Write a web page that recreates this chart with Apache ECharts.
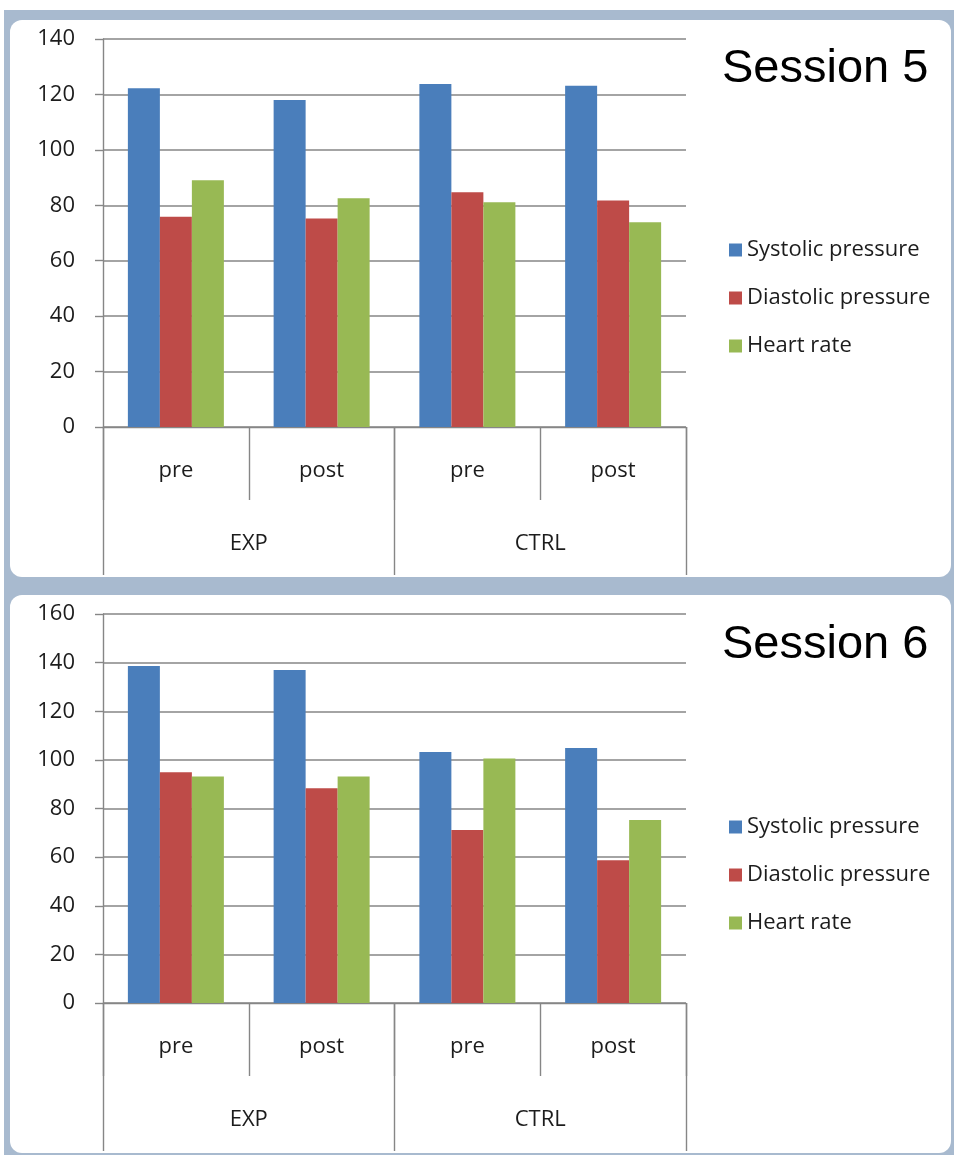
<!DOCTYPE html>
<html>
<head>
<meta charset="utf-8">
<script src="https://cdn.jsdelivr.net/npm/echarts@6/dist/echarts.min.js"></script>
<style>
  html, body { margin: 0; padding: 0; background: #ffffff; }
  #chart { width: 954px; height: 1155px; }
</style>
</head>
<body>
<div id="chart"></div>
<script>
// Condition labels (inner level) and group labels (outer level)
const conditions = ['pre', 'post', 'pre', 'post'];
const groups = ['EXP', 'CTRL'];
const measureNames = ['Systolic pressure', 'Diastolic pressure', 'Heart rate'];
const measureColors = ['#4a7ebb', '#be4b48', '#98b954'];

// Session 5 values
const s5Systolic = [122.2, 118.0, 123.8, 123.1];
const s5Diastolic = [75.9, 75.2, 84.7, 81.7];
const s5HeartRate = [89.0, 82.5, 81.1, 73.9];

// Session 6 values
const s6Systolic = [138.6, 137.0, 103.2, 104.9];
const s6Diastolic = [94.9, 88.3, 71.2, 58.7];
const s6HeartRate = [93.2, 93.2, 100.6, 75.3];

// Axis ranges
const s5Max = 140;
const s6Max = 160;
const yStep = 20;

const FONT = "'Open Sans', 'DejaVu Sans', sans-serif";
const TEXT = '#1c1c1c';
const LINE = '#868686';

const panels = [
  { title: 'Session 5', top: 39, height: 388, max: s5Max, data: [s5Systolic, s5Diastolic, s5HeartRate], titleTop: 46, legendTop: 238 },
  { title: 'Session 6', top: 614, height: 389, max: s6Max, data: [s6Systolic, s6Diastolic, s6HeartRate], titleTop: 622, legendTop: 815 }
];

const grid = [], xAxis = [], yAxis = [], series = [], title = [], legend = [];

panels.forEach((p, i) => {
  grid.push({ left: 103, width: 583, top: p.top, height: p.height, containLabel: false });

  // inner level: pre / post
  xAxis.push({
    type: 'category', gridIndex: i, data: conditions, position: 'bottom',
    axisLine: { show: true, lineStyle: { color: LINE, width: 1.4 } },
    axisTick: { show: true, length: 73, lineStyle: { color: LINE, width: 1.4 } },
    axisLabel: { margin: 33, fontSize: 22, color: TEXT, fontFamily: FONT },
    splitLine: { show: false }
  });
  // outer level: EXP / CTRL
  xAxis.push({
    type: 'category', gridIndex: i, data: groups, position: 'bottom', offset: 0,
    axisLine: { show: false },
    axisTick: { show: true, length: 148, lineStyle: { color: LINE, width: 1.4 } },
    axisLabel: { margin: 106, fontSize: 22, color: TEXT, fontFamily: FONT },
    splitLine: { show: false }
  });

  yAxis.push({
    type: 'value', gridIndex: i, min: 0, max: p.max, interval: yStep,
    axisLine: { show: true, lineStyle: { color: LINE, width: 1.4 } },
    axisTick: { show: true, inside: false, length: 8, lineStyle: { color: LINE, width: 1.4 } },
    axisLabel: { margin: 28, fontSize: 22, color: TEXT, fontFamily: FONT },
    splitLine: { show: true, lineStyle: { color: LINE, width: 1.6 } }
  });

  measureNames.forEach((name, k) => {
    series.push({
      type: 'bar', name: name,
      xAxisIndex: i * 2, yAxisIndex: i,
      data: p.data[k],
      barWidth: 32, barGap: '0%',
      itemStyle: { color: measureColors[k] },
      emphasis: { disabled: true },
      animation: false
    });
  });

  title.push({
    text: p.title, left: 722, top: p.titleTop, padding: 0,
    textStyle: { fontSize: 47, fontWeight: 'normal', color: '#000', fontFamily: "'Liberation Sans', Arial, sans-serif" }
  });

  legend.push({
    data: measureNames, orient: 'vertical', left: 729, top: p.legendTop,
    icon: 'rect', itemWidth: 13, itemHeight: 13, itemGap: 24, padding: 0,
    selectedMode: false,
    textStyle: { fontSize: 22, lineHeight: 24, color: TEXT, fontFamily: FONT }
  });
});

const chart = echarts.init(document.getElementById('chart'), null, { renderer: 'canvas' });
chart.setOption({
  animation: false,
  backgroundColor: '#ffffff',
  graphic: [
    { type: 'rect', z: -10, shape: { x: 4, y: 10, width: 960, height: 1160 }, style: { fill: '#a8bacf' } },
    { type: 'rect', z: -9, shape: { x: 10, y: 20, width: 941, height: 557, r: 12 }, style: { fill: '#ffffff' } },
    { type: 'rect', z: -9, shape: { x: 10, y: 595, width: 941, height: 558, r: 12 }, style: { fill: '#ffffff' } }
  ],
  title, legend, grid, xAxis, yAxis, series
});
</script>
</body>
</html>
